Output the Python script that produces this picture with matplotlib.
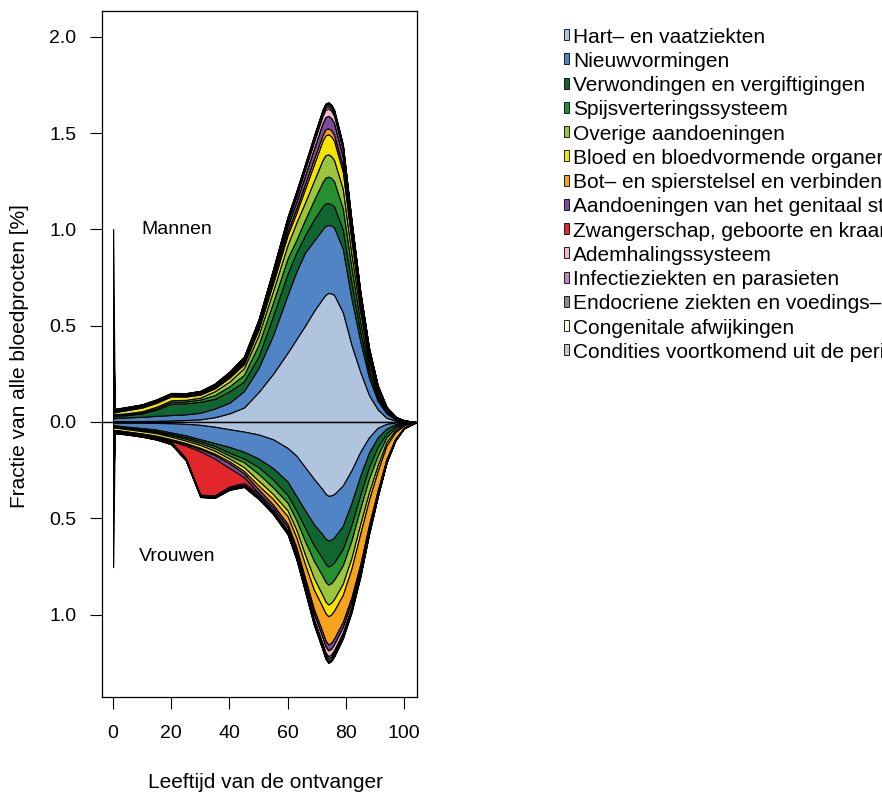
import numpy as np
import matplotlib
matplotlib.use("Agg")
import matplotlib.pyplot as plt
from matplotlib.patches import Rectangle

plt.rcParams['font.family'] = ['Liberation Sans', 'DejaVu Sans']

ages = [0, 0.6, 2, 5, 10, 15, 20, 25, 30, 35, 40, 45, 50, 55, 60, 63, 66, 69,
        72, 73, 74, 75, 76, 79, 82, 85, 88, 91, 94, 97, 100, 104]

categories = ["Hart\u2013 en vaatziekten", "Nieuwvormingen",
              "Verwondingen en vergiftigingen", "Spijsverteringssysteem",
              "Overige aandoeningen", "Bloed en bloedvormende organen",
              "Bot\u2013 en spierstelsel en verbindend weefsel",
              "Aandoeningen van het genitaal stelsel",
              "Zwangerschap, geboorte en kraambed", "Ademhalingssysteem",
              "Infectieziekten en parasieten",
              "Endocriene ziekten en voedings\u2013 en stofwisselingsziekten",
              "Congenitale afwijkingen",
              "Condities voortkomend uit de perinatale periode"]
colors = ["#B0C4DE", "#5084C4", "#116530", "#25902F", "#9BC53D", "#F4E400",
          "#F5A21C", "#7B4A9C", "#E3262A", "#F4B8C8", "#C67FBF", "#8C8C8C",
          "#FFFFF0", "#C8C8C8"]

# mannen, fractie [%] per categorie
m_hart = [0.005, 0.005, 0.005, 0.005, 0.005, 0.006, 0.008, 0.01, 0.014, 0.025, 0.045, 0.075, 0.155, 0.25, 0.36,
          0.43, 0.50, 0.575, 0.64, 0.66, 0.67, 0.668, 0.66, 0.57, 0.40, 0.26, 0.14, 0.065, 0.022, 0.008, 0.002, 0]
m_nieuw = [0.015, 0.015, 0.017, 0.019, 0.022, 0.026, 0.028, 0.03, 0.034, 0.045, 0.055, 0.085, 0.125, 0.20, 0.30,
           0.35, 0.38, 0.365, 0.36, 0.358, 0.353, 0.352, 0.35, 0.33, 0.24, 0.16, 0.09, 0.045, 0.023, 0.007, 0.002, 0]
m_verw = [0.01, 0.01, 0.01, 0.012, 0.018, 0.033, 0.059, 0.057, 0.057, 0.05, 0.06, 0.05, 0.06, 0.10, 0.11,
          0.10, 0.09, 0.11, 0.12, 0.118, 0.113, 0.112, 0.11, 0.10, 0.08, 0.05, 0.03, 0.015, 0.005, 0.002, 0.001, 0]
m_spijs = [0.005, 0.005, 0.005, 0.004, 0.005, 0.007, 0.01, 0.01, 0.012, 0.02, 0.025, 0.035, 0.06, 0.07, 0.08,
           0.065, 0.08, 0.10, 0.125, 0.133, 0.138, 0.135, 0.13, 0.11, 0.08, 0.05, 0.03, 0.015, 0.007, 0.003, 0.001, 0]
m_overig = [0.005, 0.005, 0.005, 0.006, 0.006, 0.008, 0.008, 0.008, 0.01, 0.02, 0.025, 0.035, 0.05, 0.06, 0.07,
            0.09, 0.09, 0.10, 0.115, 0.116, 0.116, 0.114, 0.11, 0.10, 0.07, 0.05, 0.03, 0.015, 0.006, 0.002, 0.001, 0]
m_bloed = [0.01, 0.01, 0.013, 0.016, 0.019, 0.02, 0.02, 0.017, 0.015, 0.015, 0.02, 0.02, 0.03, 0.04, 0.05,
           0.05, 0.07, 0.085, 0.10, 0.103, 0.104, 0.103, 0.10, 0.09, 0.07, 0.04, 0.025, 0.015, 0.007, 0.003, 0.001, 0]
m_bot = [0.002, 0.002, 0.002, 0.003, 0.003, 0.004, 0.004, 0.004, 0.005, 0.006, 0.007, 0.008, 0.01, 0.015, 0.02,
         0.022, 0.025, 0.028, 0.03, 0.031, 0.031, 0.031, 0.03, 0.026, 0.02, 0.013, 0.008, 0.004, 0.002, 0.001, 0, 0]
m_genit = [0.002, 0.002, 0.002, 0.002, 0.002, 0.002, 0.002, 0.002, 0.003, 0.004, 0.005, 0.008, 0.012, 0.02, 0.03,
           0.038, 0.046, 0.055, 0.062, 0.064, 0.065, 0.064, 0.063, 0.055, 0.04, 0.025, 0.013, 0.006, 0.003, 0.001, 0, 0]
m_zwanger = [0] * 32
m_adem = [0.003, 0.003, 0.003, 0.003, 0.003, 0.003, 0.003, 0.003, 0.003, 0.004, 0.005, 0.007, 0.01, 0.015, 0.02,
          0.025, 0.03, 0.034, 0.037, 0.038, 0.038, 0.038, 0.037, 0.032, 0.024, 0.015, 0.009, 0.004, 0.002, 0.001, 0, 0]
m_infect = [0.005, 0.003, 0.003, 0.003, 0.003, 0.003, 0.003, 0.003, 0.003, 0.004, 0.005, 0.006, 0.007, 0.008, 0.009,
            0.01, 0.01, 0.011, 0.012, 0.012, 0.012, 0.012, 0.012, 0.011, 0.008, 0.005, 0.003, 0.002, 0.001, 0, 0, 0]
m_endo = [0.1, 0.003, 0.003, 0.003, 0.003, 0.003, 0.003, 0.003, 0.003, 0.004, 0.005, 0.006, 0.007, 0.008, 0.009,
          0.01, 0.01, 0.01, 0.01, 0.01, 0.01, 0.01, 0.01, 0.009, 0.007, 0.005, 0.003, 0.002, 0.001, 0, 0, 0]
m_congen = [0.35, 0.003, 0.002, 0.002, 0.002, 0.002, 0.002, 0.002, 0.002, 0.002, 0.003, 0.003, 0.004, 0.004, 0.005,
            0.005, 0.005, 0.006, 0.006, 0.006, 0.006, 0.006, 0.006, 0.005, 0.004, 0.003, 0.002, 0.001, 0, 0, 0, 0]
m_perinat = [0.49, 0.004, 0.002, 0.001, 0.001, 0.001, 0.001, 0.001, 0.001, 0.001, 0.002, 0.002, 0.002, 0.003, 0.003,
             0.004, 0.004, 0.005, 0.005, 0.005, 0.005, 0.005, 0.005, 0.005, 0.004, 0.003, 0.002, 0.001, 0.001, 0, 0, 0]

# vrouwen, fractie [%] per categorie
w_hart = [0.004, 0.004, 0.004, 0.004, 0.004, 0.005, 0.007, 0.01, 0.015, 0.025, 0.038, 0.05, 0.065, 0.09, 0.135,
          0.175, 0.235, 0.295, 0.35, 0.372, 0.384, 0.382, 0.375, 0.33, 0.25, 0.155, 0.08, 0.03, 0.01, 0.003, 0.001, 0]
w_nieuw = [0.014, 0.014, 0.016, 0.021, 0.028, 0.035, 0.048, 0.06, 0.075, 0.085, 0.092, 0.105, 0.125, 0.15, 0.175,
           0.21, 0.225, 0.235, 0.235, 0.234, 0.232, 0.229, 0.225, 0.21, 0.17, 0.125, 0.08, 0.05, 0.025, 0.009, 0.003, 0]
w_verw = [0.004, 0.004, 0.004, 0.005, 0.006, 0.008, 0.008, 0.01, 0.01, 0.015, 0.03, 0.035, 0.045, 0.06, 0.07,
          0.075, 0.09, 0.11, 0.125, 0.131, 0.135, 0.133, 0.13, 0.12, 0.115, 0.10, 0.075, 0.05, 0.025, 0.01, 0.004, 0]
w_spijs = [0.004, 0.004, 0.004, 0.004, 0.005, 0.005, 0.007, 0.008, 0.01, 0.012, 0.015, 0.02, 0.035, 0.04, 0.04,
           0.05, 0.07, 0.08, 0.09, 0.093, 0.094, 0.093, 0.09, 0.085, 0.08, 0.07, 0.06, 0.045, 0.02, 0.01, 0.003, 0]
w_overig = [0.004, 0.004, 0.004, 0.004, 0.005, 0.006, 0.007, 0.009, 0.01, 0.013, 0.015, 0.025, 0.035, 0.035, 0.04,
            0.05, 0.07, 0.09, 0.10, 0.102, 0.103, 0.102, 0.10, 0.095, 0.09, 0.08, 0.07, 0.05, 0.025, 0.012, 0.004, 0]
w_bloed = [0.012, 0.012, 0.012, 0.012, 0.012, 0.013, 0.013, 0.013, 0.015, 0.015, 0.015, 0.02, 0.025, 0.025, 0.03,
           0.04, 0.05, 0.06, 0.06, 0.061, 0.061, 0.061, 0.06, 0.058, 0.055, 0.05, 0.04, 0.03, 0.018, 0.009, 0.003, 0]
w_bot = [0.002, 0.002, 0.002, 0.002, 0.003, 0.003, 0.004, 0.005, 0.006, 0.008, 0.01, 0.012, 0.02, 0.03, 0.04,
         0.05, 0.07, 0.10, 0.13, 0.141, 0.147, 0.147, 0.145, 0.14, 0.15, 0.16, 0.13, 0.10, 0.07, 0.035, 0.012, 0.003]
w_genit = [0.002, 0.002, 0.002, 0.002, 0.002, 0.003, 0.005, 0.008, 0.012, 0.018, 0.025, 0.02, 0.02, 0.018, 0.018,
           0.02, 0.022, 0.026, 0.03, 0.031, 0.031, 0.031, 0.03, 0.028, 0.025, 0.02, 0.015, 0.01, 0.006, 0.003, 0.001, 0]
w_zwanger = [0, 0, 0, 0, 0, 0.002, 0.005, 0.065, 0.225, 0.19, 0.095, 0.03, 0.005, 0, 0,
             0, 0, 0, 0, 0, 0, 0, 0, 0, 0, 0, 0, 0, 0, 0, 0, 0]
w_adem = [0.003, 0.003, 0.003, 0.003, 0.003, 0.003, 0.003, 0.003, 0.003, 0.004, 0.005, 0.008, 0.01, 0.012, 0.015,
          0.018, 0.022, 0.026, 0.03, 0.03, 0.03, 0.03, 0.03, 0.028, 0.025, 0.022, 0.017, 0.012, 0.008, 0.004, 0.002, 0]
w_infect = [0.005, 0.003, 0.003, 0.003, 0.003, 0.003, 0.003, 0.003, 0.003, 0.003, 0.004, 0.004, 0.005, 0.006, 0.007,
            0.008, 0.009, 0.01, 0.011, 0.012, 0.012, 0.012, 0.012, 0.011, 0.01, 0.008, 0.006, 0.004, 0.002, 0.001, 0, 0]
w_endo = [0.05, 0.003, 0.003, 0.003, 0.003, 0.003, 0.003, 0.003, 0.003, 0.003, 0.004, 0.004, 0.005, 0.006, 0.007,
          0.008, 0.009, 0.01, 0.011, 0.012, 0.012, 0.012, 0.012, 0.011, 0.01, 0.008, 0.006, 0.004, 0.002, 0.001, 0, 0]
w_congen = [0.27, 0.002, 0.002, 0.002, 0.002, 0.002, 0.002, 0.002, 0.002, 0.002, 0.003, 0.003, 0.003, 0.004, 0.004,
            0.005, 0.005, 0.006, 0.006, 0.006, 0.006, 0.006, 0.006, 0.005, 0.005, 0.004, 0.003, 0.002, 0.001, 0, 0, 0]
w_perinat = [0.38, 0.003, 0.002, 0.001, 0.001, 0.001, 0.001, 0.001, 0.001, 0.001, 0.002, 0.002, 0.002, 0.003, 0.003,
             0.004, 0.004, 0.005, 0.005, 0.005, 0.005, 0.005, 0.005, 0.005, 0.004, 0.003, 0.002, 0.001, 0.001, 0, 0, 0]

men = [m_hart, m_nieuw, m_verw, m_spijs, m_overig, m_bloed, m_bot, m_genit,
       m_zwanger, m_adem, m_infect, m_endo, m_congen, m_perinat]
women = [w_hart, w_nieuw, w_verw, w_spijs, w_overig, w_bloed, w_bot, w_genit,
         w_zwanger, w_adem, w_infect, w_endo, w_congen, w_perinat]

W, H = 882, 792
fig = plt.figure(figsize=(W / 100, H / 100), dpi=100)
ax = fig.add_axes([102 / W, 1 - 697 / H, 315 / W, 686 / H])

x = np.array(ages)
for sign, stack in [(1, men), (-1, women)]:
    lower = np.zeros(len(x))
    for vals, col in zip(stack, colors):
        upper = lower + np.array(vals)
        ax.fill_between(x, sign * lower, sign * upper, facecolor=col,
                        edgecolor="black", linewidth=0.8)
        lower = upper

ax.axhline(0, color="black", linewidth=1)

ax.set_xlim(-3.8, 104.5)
ax.set_ylim(-1.428, 2.134)
ax.set_xticks([0, 20, 40, 60, 80, 100])
ax.set_yticks([-1, -0.5, 0, 0.5, 1, 1.5, 2])
ax.set_yticklabels(["1.0", "0.5", "0.0", "0.5", "1.0", "1.5", "2.0"])
ax.tick_params(direction="out", length=8.5, width=0.8, labelsize=14)
ax.tick_params(axis="x", pad=12)
ax.tick_params(axis="y", pad=10)
for s in ax.spines.values():
    s.set_linewidth(0.9)

ax.text(22, 1.0, "Mannen", ha="center", va="center", fontsize=14)
ax.text(22, -0.70, "Vrouwen", ha="center", va="center", fontsize=14)

fig.text(265 / W, 1 - 783 / H, "Leeftijd van de ontvanger", ha="center",
         va="center", fontsize=15)
fig.text(20 / W, 1 - 356 / H, "Fractie van alle bloedprocten [%]",
         rotation=90, ha="center", va="center", fontsize=15)

# legenda, handmatig in pixels geplaatst (loopt net als het origineel over de rand)
for i, (name, col) in enumerate(zip(categories, colors)):
    yc = 34.7 + i * 24.25
    fig.patches.append(Rectangle((563.5 / W, 1 - (yc + 5.5) / H), 5.5 / W, 11 / H,
                                 transform=fig.transFigure, facecolor=col,
                                 edgecolor="black", linewidth=0.6))
    fig.text(573 / W, 1 - (yc + 8) / H, name, ha="left", va="baseline",
             fontsize=15)

fig.savefig("out.png", dpi=100)
